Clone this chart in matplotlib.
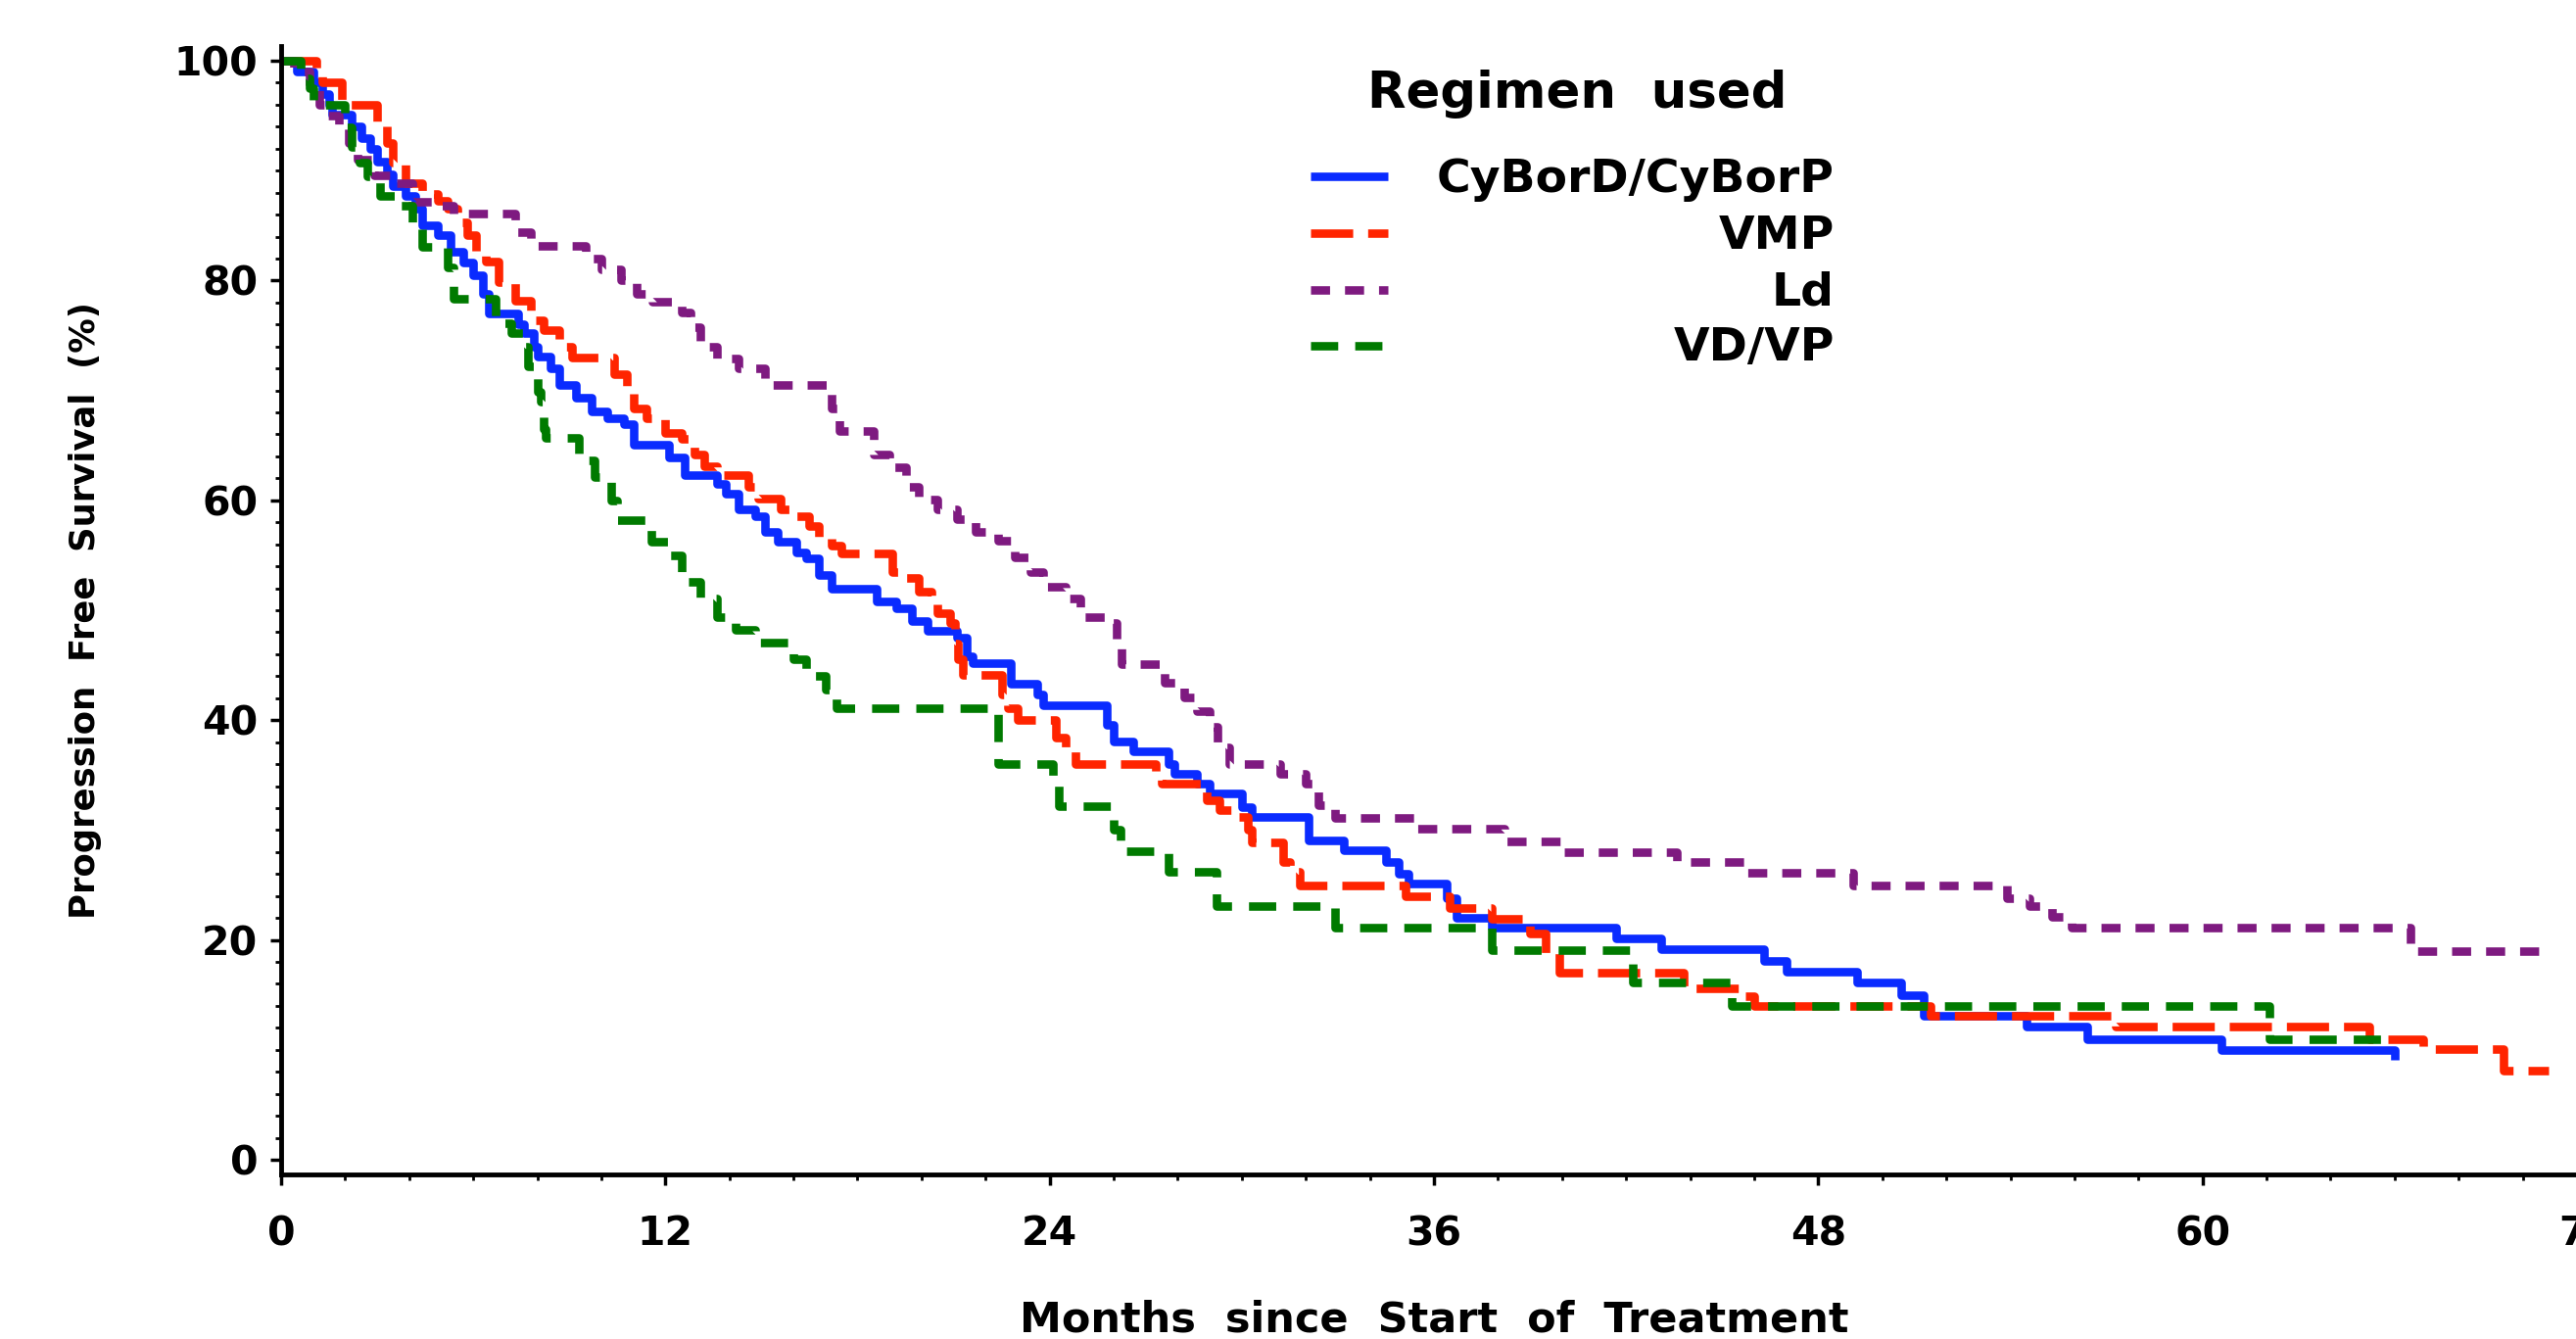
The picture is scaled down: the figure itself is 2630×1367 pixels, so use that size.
import matplotlib
matplotlib.use('Agg')
import matplotlib.pyplot as plt
from matplotlib.lines import Line2D
from matplotlib.ticker import MultipleLocator

# Kaplan-Meier steps (months, % progression free)
cybor_t = [0, 0.5, 1.0, 1.3, 1.5, 1.6, 2.2, 2.5, 2.8, 3.0,
           3.3, 3.5, 3.9, 4.2, 4.4, 4.9, 5.3, 5.7, 6.0, 6.3,
           6.5, 7.4, 7.6, 7.9, 8.0, 8.4, 8.7, 9.2, 9.7, 10.2,
           10.7, 11.0, 12.1, 12.6, 13.6, 13.9, 14.3, 14.8, 15.1, 15.5,
           16.1, 16.4, 16.8, 17.2, 18.6, 19.2, 19.7, 20.2, 21.1, 21.4,
           21.6, 22.8, 23.6, 23.8, 25.8, 26.0, 26.6, 27.7, 27.9, 28.6,
           29.0, 30.0, 30.3, 32.1, 33.2, 34.5, 34.9, 35.2, 36.4, 36.7,
           37.8, 41.7, 43.1, 46.3, 47.0, 49.2, 50.6, 51.3, 54.5, 56.4,
           60.6, 66.0]
cybor_s = [100, 99.0, 98.0, 97.0, 96.0, 95.1, 94.0, 93.0, 92.0, 90.8,
           89.7, 88.6, 87.7, 86.5, 85.0, 84.1, 82.6, 81.6, 80.5, 78.8,
           77.0, 76.0, 75.2, 74.0, 73.1, 72.0, 70.5, 69.3, 68.1, 67.5,
           66.9, 65.1, 63.9, 62.3, 61.5, 60.6, 59.2, 58.6, 57.1, 56.2,
           55.3, 54.7, 53.2, 52.0, 50.8, 50.2, 49.0, 48.1, 47.5, 45.8,
           45.2, 43.3, 42.3, 41.4, 39.6, 38.1, 37.2, 36.0, 35.1, 34.2,
           33.3, 32.1, 31.2, 29.1, 28.2, 27.1, 26.0, 25.1, 23.8, 22.0,
           21.1, 20.1, 19.2, 18.1, 17.1, 16.1, 15.0, 13.1, 12.1, 11.0,
           10.0, 9.1]

vmp_t = [0, 1.1, 1.3, 1.9, 3.0, 3.3, 3.5, 3.9, 4.4, 4.9,
         5.2, 5.5, 5.8, 6.1, 6.4, 6.8, 7.3, 7.8, 8.2, 8.7,
         9.1, 10.4, 10.8, 11.0, 11.4, 12.0, 12.5, 12.9, 13.2, 13.6,
         14.6, 14.9, 15.6, 16.0, 16.5, 16.8, 17.2, 17.5, 19.1, 19.5,
         19.9, 20.3, 20.5, 20.9, 21.05, 21.15, 21.3, 22.5, 22.7, 23.0,
         24.2, 24.5, 24.8, 27.3, 27.5, 28.9, 29.3, 29.8, 30.2, 30.3,
         31.3, 31.5, 31.8, 35.1, 36.5, 37.8, 39.0, 39.5, 39.9, 43.8,
         45.6, 46.0, 51.5, 57.3, 65.2, 66.9, 69.4, 70.8]
vmp_s = [100, 98.9, 98.0, 96.0, 94.2, 92.5, 90.7, 88.9, 87.9, 87.3,
         86.5, 85.3, 84.1, 82.6, 81.7, 79.9, 78.2, 76.4, 75.5, 74.0,
         73.0, 71.5, 70.1, 68.4, 67.5, 66.1, 65.6, 64.2, 63.1, 62.3,
         61.2, 60.2, 59.2, 58.6, 57.7, 56.5, 55.9, 55.2, 53.5, 52.9,
         51.7, 51.0, 49.7, 48.8, 47.0, 45.5, 44.1, 42.3, 41.1, 40.0,
         38.4, 37.2, 36.0, 34.8, 34.2, 32.7, 31.8, 31.2, 30.0, 28.9,
         27.1, 26.2, 25.0, 24.0, 22.9, 21.9, 20.6, 18.8, 17.0, 15.6,
         14.9, 14.0, 13.1, 12.1, 11.0, 10.1, 8.1, 8.1]

ld_t = [0, 0.4, 0.9, 1.2, 1.4, 1.8, 2.1, 2.4, 2.9, 3.6,
        4.1, 4.8, 5.4, 7.3, 7.8, 9.5, 10.0, 10.6, 11.1, 11.6,
        12.5, 12.8, 13.1, 13.6, 14.3, 15.1, 17.2, 17.45, 18.5, 19.0,
        19.5, 19.9, 20.5, 21.1, 21.7, 22.4, 22.9, 23.4, 23.8, 24.5,
        24.95, 25.8, 26.1, 26.25, 27.6, 28.2, 28.6, 29.0, 29.25, 29.6,
        31.2, 32.0, 32.4, 32.9, 35.4, 38.2, 40.0, 43.6, 45.7, 49.1,
        53.9, 54.6, 55.3, 55.9, 66.5, 70.9]
ld_s = [100, 99.0, 97.5, 96.0, 95.0, 94.0, 92.5, 91.0, 89.6, 88.9,
        87.2, 86.8, 86.1, 84.4, 83.2, 82.0, 81.0, 80.0, 78.8, 78.1,
        77.1, 75.8, 74.0, 72.9, 72.0, 70.5, 68.4, 66.3, 64.2, 63.0,
        61.2, 60.1, 59.2, 58.3, 57.1, 56.3, 54.8, 53.5, 52.1, 51.1,
        49.4, 48.8, 47.0, 45.1, 43.4, 42.1, 40.8, 39.4, 37.5, 36.0,
        35.1, 34.2, 32.3, 31.1, 30.1, 29.0, 28.0, 27.1, 26.1, 25.0,
        23.8, 23.1, 22.1, 21.1, 19.0, 19.0]

vd_t = [0, 0.6, 0.9, 1.0, 2.0, 2.2, 2.45, 2.7, 3.1, 3.7,
        4.1, 4.4, 5.2, 5.4, 6.7, 7.2, 7.55, 7.7, 8.0, 8.1,
        8.2, 8.25, 9.3, 9.8, 10.3, 10.5, 11.55, 12.1, 12.5, 13.1,
        13.6, 14.2, 14.8, 16.0, 16.4, 17.0, 17.35, 22.4, 24.1, 24.3,
        26.0, 26.2, 27.7, 29.2, 32.9, 37.8, 42.2, 45.3, 62.1, 65.8]
vd_s = [100, 98.4, 97.5, 96.0, 93.9, 92.2, 90.7, 89.5, 87.7, 86.8,
        85.0, 83.1, 81.2, 78.3, 76.1, 75.2, 74.0, 72.2, 69.9, 69.0,
        66.5, 65.7, 63.6, 62.1, 60.0, 58.2, 56.2, 55.0, 52.6, 51.1,
        49.4, 48.2, 47.1, 45.5, 44.0, 42.8, 41.1, 36.0, 34.5, 32.2,
        30.0, 28.1, 26.2, 23.1, 21.1, 19.1, 16.1, 14.0, 11.0, 11.0]

regimens = ['CyBorD/CyBorP', 'VMP', 'Ld', 'VD/VP']
colors = ['#0A2BFF', '#FF2400', '#7E1A80', '#007A00']
dashes = ['-', (0, (31, 11)), (0, (14, 11)), (0, (20, 12.5))]
x_ticks = [0, 12, 24, 36, 48, 60, 72]
y_ticks = [0, 20, 40, 60, 80, 100]

plt.rcParams['font.family'] = ['DejaVu Sans']
plt.rcParams['font.weight'] = 'bold'
plt.rcParams['lines.scale_dashes'] = False

fig = plt.figure(figsize=(26.3, 13.67), dpi=100)
ax = fig.add_axes([0.1091, 0.1232, 0.8951, 0.8421])

curves = [(cybor_t, cybor_s), (vmp_t, vmp_s), (ld_t, ld_s), (vd_t, vd_s)]
for (t, s), name, c, ls in zip(curves, regimens, colors, dashes):
    ax.step(t, s, where='post', color=c, linestyle=ls, lw=6.2, label=name,
            solid_capstyle='butt', dash_capstyle='butt')

ax.set_xlim(0, 72)
ax.set_ylim(-1.3, 101.3)
for side in ['top', 'right']:
    ax.spines[side].set_visible(False)
for side in ['left', 'bottom']:
    ax.spines[side].set_linewidth(3.5)

ax.set_xticks(x_ticks)
ax.set_yticks(y_ticks)
ax.xaxis.set_minor_locator(MultipleLocator(2))
ax.yaxis.set_minor_locator(MultipleLocator(2))
ax.tick_params(which='major', length=8, width=2.5, labelsize=29.5)
ax.tick_params(which='minor', length=4.5, width=2)
ax.tick_params(axis='x', which='major', pad=22)
ax.tick_params(axis='y', which='major', pad=9)

ax.set_xlabel('Months  since  Start  of  Treatment', fontsize=31, fontweight='bold')
ax.xaxis.set_label_coords(0.5, -0.129)
ax.xaxis.label.set_va('center')
ax.set_ylabel('Progression  Free  Survival  (%)', fontsize=25.5, fontweight='bold')
ax.yaxis.set_label_coords(-0.085, 0.5)
ax.yaxis.label.set_va('center')

# legend drawn by hand so the labels can sit right-aligned like the original
W, H = 2630.0, 1367.0
fig.text(1610 / W, 1 - 96 / H, 'Regimen  used', ha='center', va='center',
         fontsize=37, fontweight='bold')
rows_y = [180, 238, 296, 353]
for name, c, ls, y in zip(regimens, colors, dashes, rows_y):
    fig.add_artist(Line2D([1338 / W, 1417 / W], [1 - y / H, 1 - y / H],
                          transform=fig.transFigure, color=c, linestyle=ls,
                          lw=6.2, solid_capstyle='butt', dash_capstyle='butt'))
    fig.text(1873 / W, 1 - (y + 3) / H, name, ha='right', va='center',
             fontsize=34, fontweight='bold')

fig.savefig('out.png', dpi=100)
